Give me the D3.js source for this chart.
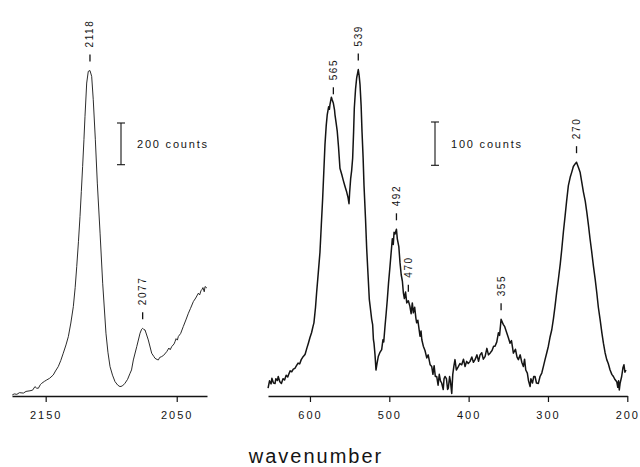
<!DOCTYPE html>
<html>
<head>
<meta charset="utf-8">
<script src="https://cdn.jsdelivr.net/npm/d3@7"></script>
<style>
	body { margin: 0; background: #fff; }
	svg { font-family: "Liberation Sans", Arial, sans-serif; }
</style>
</head>
<body>
<svg id="chart" width="640" height="467"></svg>
<script>
/* global d3 */

// left panel, C-N stretch region
const leftWavenumber = [2175.5, 2174, 2172, 2170, 2167, 2165, 2162, 2160, 2158.2, 2157, 2155.6, 2154, 2153, 2151, 2149.2, 2147,
	2144.2, 2142.5, 2140.4, 2138.5, 2136.6, 2134.5, 2132.7, 2130.8, 2128.9, 2127.5, 2126.3, 2125, 2123.8, 2122.8, 2121.8,
	2120.8, 2120, 2118.7, 2117.5, 2116.2, 2114.9, 2113.7, 2112.1, 2110.6, 2108.5, 2106.5, 2104, 2102.5, 2100.9, 2099,
	2097.1, 2095, 2093.3, 2091.5, 2089.5, 2087.5, 2085.6, 2084.5, 2083.1, 2080.5, 2078, 2076.8, 2076, 2075, 2074.2,
	2071.7, 2069.1, 2067.5, 2066.6, 2065, 2064, 2063, 2061.5, 2060, 2057.6, 2056, 2055, 2053.8, 2052, 2051.3, 2050.5,
	2049.5, 2048.8, 2047, 2045, 2043, 2041.1, 2039.5, 2037.3, 2035.5, 2033.5, 2032.5, 2031.5, 2030.9, 2030, 2029,
	2028.4, 2027];
const leftCounts = [5, 10, 8, 16, 14, 22, 25, 28, 45, 38, 37, 55, 61, 70, 77, 85,
	101, 120, 141, 170, 205, 245, 285, 350, 429, 520, 621, 740, 861, 980, 1101,
	1230, 1341, 1501, 1557, 1561, 1533, 1421, 1229, 1021, 781, 541, 301, 210, 141, 100,
	69, 52, 45, 48, 61, 80, 109, 125, 173, 237, 301, 320, 325, 318, 317,
	269, 205, 190, 181, 175, 173, 185, 189, 195, 213, 230, 222, 237, 250, 261, 275,
	268, 285, 300, 333, 365, 397, 420, 453, 470, 493, 485, 505, 509, 520, 500,
	525, 518];

// right panel, low frequency region
const rightWavenumber = [652.8, 651, 649, 648, 646, 644, 643, 641, 640, 638, 636, 634, 632, 630, 628, 627, 625, 623, 621, 619,
	617, 615, 613, 611, 609, 607, 606, 604, 602, 600, 598, 596, 595, 593, 591.6, 589.5, 587.4, 585.7, 584, 582.5,
	581.1, 579.5, 578.2, 576.5, 575.5, 574.8, 573, 572, 570.5, 569, 568.5, 567, 565.6, 564, 562.2, 560, 558, 556,
	553.7, 552, 550.8, 550, 548.7, 547.5, 546.2, 545, 544.1, 542.5, 541.1, 540, 539.1, 538, 536.9, 535.5, 534.4,
	533, 531.9, 530, 528.5, 526.8, 525.2, 524, 522.2, 521, 520, 519.3, 518, 516.8, 515.5, 513.9, 512, 509.6, 508,
	507, 505.4, 504, 502.5, 501, 499.1, 497.5, 496.2, 495, 494, 492.8, 491, 489.9, 488, 486.5, 485, 483.5, 482.3,
	481, 479.5, 478, 476, 474, 472.5, 471, 469.7, 468, 466.5, 465.5, 464, 461.3, 460, 459, 457.1, 455, 452.8, 451,
	448.5, 446.5, 445, 443.5, 442, 440.2, 438.5, 437, 435.5, 434, 432, 431, 429.8, 428, 426.5, 425.6, 424, 423,
	421.3, 420, 418.5, 417.2, 415.5, 413, 411, 408.7, 406.5, 404.5, 402.5, 400.5, 398.2, 396, 394, 391.9, 389.5,
	387.5, 385.6, 383.5, 381.5, 379.3, 377, 375, 373, 370.5, 368.5, 366.7, 364.5, 362.5, 361, 359.1, 357.5, 356.2,
	354.5, 352, 350, 347.8, 346, 344.5, 343.6, 341, 339, 337.3, 335, 333, 331, 329.5, 328, 326, 324.5, 322.5, 321.5,
	319.5, 318, 316.3, 314.5, 312.1, 310, 307.8, 305.5, 303.7, 301.5, 299.5, 297.5, 295.2, 293, 291.1, 289, 286.9,
	284.5, 282.6, 280.5, 278.4, 276.5, 274.3, 272, 270, 268, 265.8, 264, 262.4, 261, 259.5, 257.5, 255.3, 253, 251,
	249, 246.9, 245, 242.7, 240.5, 238.5, 236.5, 234.3, 232, 230.1, 228, 225.9, 224, 221.7, 219.5, 217.5, 215.5,
	213.3, 212, 211, 210.1, 209, 207.1, 205.5, 204.2, 203, 201.7];
const rightCounts = [18, 35, 28, 41, 30, 29, 40, 36, 45, 33, 29, 40, 37, 48, 44, 49, 58, 56, 62, 64,
	70, 76, 74, 84, 90, 94, 97, 110, 122, 135, 146, 162, 169, 205, 239, 285, 332, 395, 456, 520,
	580, 625, 650, 668, 662, 673, 690, 684, 676, 660, 650, 630, 611, 575, 526, 512, 498, 485,
	471, 458, 444, 470, 502, 520, 549, 610, 665, 710, 735, 745, 754, 740, 719, 670, 611,
	550, 487, 410, 340, 280, 223, 205, 177, 165, 130, 122, 95, 60, 75, 91, 100, 107, 130,
	125, 161, 190, 223, 260, 300, 335, 363, 350, 378, 374, 385, 363, 345, 308, 280, 265, 239,
	225, 240, 215, 220, 207, 190, 215, 192, 205, 180, 169, 175, 138, 150, 130, 115, 105, 88, 95,
	72, 68, 50, 70, 45, 45, 25, 50, 35, 30, 15, 40, 45, 40, 15, 18, 45, 35,
	6, 50, 70, 84, 60, 68, 75, 72, 85, 68, 80, 75, 80, 90, 78, 84, 95,
	80, 95, 100, 85, 91, 110, 95, 99, 105, 115, 115, 125, 146, 140, 177, 170, 165,
	160, 146, 135, 122, 128, 110, 99, 108, 90, 84, 95, 78, 68, 85, 60, 53, 35, 22, 40,
	30, 45, 45, 30, 29, 45, 53, 70, 84, 100, 115, 135, 153, 180, 207, 240, 269,
	305, 339, 380, 416, 450, 486, 505, 517, 530, 536, 540, 532, 525, 517, 495, 471, 450, 424,
	395, 362, 335, 300, 270, 239, 205, 177, 145, 122, 100, 84, 75, 60, 50, 45, 38,
	33, 20, 35, 14, 30, 45, 65, 72, 55, 60];

const leftPeaks = [2118, 2077];
const rightPeaks = [565, 539, 492, 470, 355, 270];
const leftTicks = [2150, 2050];
const rightTicks = [600, 500, 400, 300, 200];
const scaleBarCounts = [200, 100];

const svg = d3.select('#chart');
const baseY = 396;
const ink = '#141414';

const panels = [
	{
		wavenumber: leftWavenumber,
		counts: leftCounts,
		peaks: leftPeaks,
		ticks: leftTicks,
		domain: [2175.7, 2026.9],
		range: [12, 207],
		pxPerCount: 0.2085,
		bar: scaleBarCounts[0],
		barX: 121,
		barTop: 123,
		lineWidth: 0.9,
	},
	{
		wavenumber: rightWavenumber,
		counts: rightCounts,
		peaks: rightPeaks,
		ticks: rightTicks,
		domain: [652.9, 200],
		range: [268, 627.3],
		pxPerCount: 0.433,
		bar: scaleBarCounts[1],
		barX: 435,
		barTop: 122,
		lineWidth: 1.5,
	},
];

function drawPanel(p) {
	const x = d3.scaleLinear()
		.domain(p.domain)
		.range(p.range);

	const y = d3.scaleLinear()
		.domain([0, 1000])
		.range([baseY, baseY - 1000 * p.pxPerCount]);

	const g = svg.append('g');

	// axis
	const axis = d3.axisBottom(x)
		.tickValues(p.ticks)
		.tickSize(6)
		.tickSizeOuter(0)
		.tickPadding(9)
		.tickFormat(d3.format('d'));

	const axisGroup = g.append('g')
		.attr('transform', `translate(0,${baseY})`)
		.call(axis);

	axisGroup.select('.domain')
		.attr('stroke', ink)
		.attr('stroke-width', 1.3);
	axisGroup.selectAll('.tick line')
		.attr('stroke', ink)
		.attr('stroke-width', 1.2);
	axisGroup.selectAll('.tick text')
		.attr('fill', ink)
		.attr('font-size', '11px')
		.attr('font-family', '"Liberation Sans", Arial, sans-serif')
		.style('letter-spacing', '2px');

	// spectrum
	const points = p.wavenumber.map((w, i) => [w, p.counts[i]]);

	const line = d3.line()
		.x(d => x(d[0]))
		.y(d => y(d[1]));

	g.append('path')
		.datum(points)
		.attr('fill', 'none')
		.attr('stroke', ink)
		.attr('stroke-width', p.lineWidth)
		.attr('stroke-linejoin', 'round')
		.attr('d', line);

	// peak labels, placed over the local maximum of the trace
	p.peaks.forEach(peak => {
		const near = points.filter(d => Math.abs(d[0] - peak) <= 6);
		const best = near[d3.maxIndex(near, d => d[1])];
		const top = y(best[1]);
		const px = x(best[0]);

		g.append('line')
			.attr('x1', px)
			.attr('x2', px)
			.attr('y1', top - 16)
			.attr('y2', top - 9)
			.attr('stroke', ink)
			.attr('stroke-width', 1.3);

		g.append('text')
			.attr('transform', `translate(${px},${top - 23}) rotate(-90)`)
			.attr('dy', '0.35em')
			.attr('font-size', '10px')
			.attr('fill', ink)
			.style('letter-spacing', '1.6px')
			.text(peak);
	});

	// scale bar
	const barLen = y(0) - y(p.bar);
	const bar = g.append('g')
		.attr('stroke', ink)
		.attr('stroke-width', 1.1);
	bar.append('line')
		.attr('x1', p.barX).attr('x2', p.barX)
		.attr('y1', p.barTop).attr('y2', p.barTop + barLen);
	bar.append('line')
		.attr('x1', p.barX - 4).attr('x2', p.barX + 4)
		.attr('y1', p.barTop).attr('y2', p.barTop);
	bar.append('line')
		.attr('x1', p.barX - 4).attr('x2', p.barX + 4)
		.attr('y1', p.barTop + barLen).attr('y2', p.barTop + barLen);

	g.append('text')
		.attr('x', p.barX + 16)
		.attr('y', p.barTop + barLen / 2)
		.attr('dy', '0.35em')
		.attr('font-size', '11px')
		.attr('fill', ink)
		.style('letter-spacing', '1.8px')
		.text(`${p.bar} counts`);
}

panels.forEach(drawPanel);

svg.append('text')
	.attr('x', 316)
	.attr('y', 463)
	.attr('text-anchor', 'middle')
	.attr('font-size', '20px')
	.attr('fill', ink)
	.style('letter-spacing', '2px')
	.text('wavenumber');
</script>
</body>
</html>
